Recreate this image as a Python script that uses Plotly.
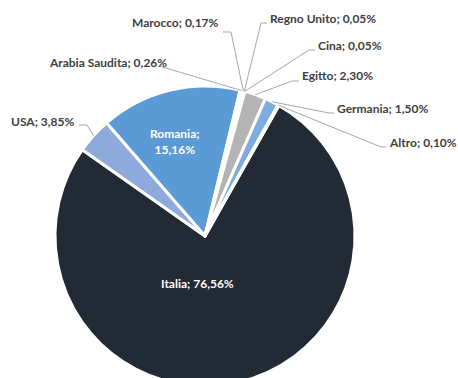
import math
import plotly.graph_objects as go

# ---- data ----
countries = ["Italia", "USA", "Romania", "Arabia Saudita", "Marocco",
             "Regno Unito", "Cina", "Egitto", "Germania", "Altro"]
shares = [76.56, 3.85, 15.16, 0.26, 0.17, 0.05, 0.05, 2.30, 1.50, 0.10]
share_labels = ["76,56%", "3,85%", "15,16%", "0,26%", "0,17%",
                "0,05%", "0,05%", "2,30%", "1,50%", "0,10%"]
colors = ["#222A35", "#8EA9DB", "#5B9BD5", "#2F5597", "#A5A5A5",
          "#7F7F7F", "#D9D9D9", "#B4B4B4", "#7EACDF", "#9DC3E6"]

# ---- layout ----
W, H = 458, 400
CX, CY, R = 205, 236, 150
ROT = 29.5
TEXT_COLOR = "#404040"
LINE_COLOR = "#A6A6A6"
FONT = "Lato"

# label placement: (x, y, xanchor, line start, elbow)
label_pos = {
    "USA": (77, 121, "right", (79, 125), (87, 125)),
    "Arabia Saudita": (169, 62, "right", (159, 66), None),
    "Marocco": (221, 22, "right", (223, 32), (231, 32)),
    "Regno Unito": (268, 18, "left", (267, 23), (261, 23)),
    "Cina": (316, 45, "left", (315, 50), (309, 50)),
    "Egitto": (300, 76, "left", (299, 81), (292, 81)),
    "Germania": (335, 108, "left", (334, 113), (329, 113)),
    "Altro": (387, 143, "left", (386, 147), (381, 147)),
}
inside_pos = {
    "Romania": (175, 141, "Romania;<br>15,16%"),
    "Italia": (197, 283, "Italia; 76,56%"),
}


def px(x):
    return x / W


def py(y):
    return 1 - y / H


fig = go.Figure(go.Pie(
    labels=countries,
    values=shares,
    sort=False,
    direction="clockwise",
    rotation=ROT,
    marker=dict(colors=colors, line=dict(color="white", width=3)),
    textinfo="none",
    hoverinfo="label+percent",
    domain=dict(x=[px(CX - R), px(CX + R)], y=[py(CY + R), py(CY - R)]),
))

total = sum(shares)
annotations = []
shapes = []
cum = 0.0
for name, v, lab in zip(countries, shares, share_labels):
    mid = math.radians(ROT + (cum + v / 2) / total * 360)
    cum += v
    rim = (CX + R * math.sin(mid), CY - R * math.cos(mid))
    if name in label_pos:
        tx, ty, anc, start, elbow = label_pos[name]
        annotations.append(dict(
            x=px(tx), y=py(ty), xref="paper", yref="paper",
            xanchor=anc, yanchor="middle", showarrow=False,
            text=f"<b>{name}; {lab}</b>",
            font=dict(family=FONT, size=12, color=TEXT_COLOR)))
        pts = [start] + ([elbow] if elbow else []) + [rim]
        path = "M " + " L ".join(f"{px(a):.5f},{py(b):.5f}" for a, b in pts)
        shapes.append(dict(type="path", path=path, xref="paper", yref="paper",
                           line=dict(color=LINE_COLOR, width=1)))
    elif name in inside_pos:
        tx, ty, txt = inside_pos[name]
        annotations.append(dict(
            x=px(tx), y=py(ty), xref="paper", yref="paper",
            xanchor="center", yanchor="middle", showarrow=False,
            text=f"<b>{txt}</b>",
            font=dict(family=FONT, size=12, color="white")))

fig.update_layout(
    width=W, height=H,
    margin=dict(l=0, r=0, t=0, b=0),
    paper_bgcolor="white", plot_bgcolor="white",
    showlegend=False,
    annotations=annotations,
    shapes=shapes,
)

fig.write_html(
    "out.html",
    config={"displayModeBar": False},
    post_script="document.body.style.overflow='hidden';"
                "document.documentElement.style.overflow='hidden';",
)
